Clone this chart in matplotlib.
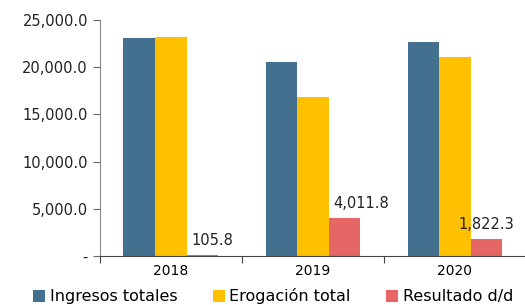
import matplotlib.pyplot as plt
import numpy as np
from matplotlib.ticker import FuncFormatter

years = ['2018', '2019', '2020']
ingresos = [23100, 20550, 22700]
erogacion = [23200, 16850, 21100]
resultado = [105.8, 4011.8, 1822.3]
labels = ['Ingresos totales', 'Erogación total', 'Resultado d/d']
colors = ['#44708f', '#ffc000', '#e66565']

plt.rcParams['font.family'] = ['DejaVu Sans']

fig = plt.figure(figsize=(5.25, 3.05), dpi=100)
ax = fig.add_axes([0.19, 0.161, 0.812, 0.773])

x = np.arange(len(years)) + 0.5
w = 0.222
series = [ingresos, erogacion, resultado]
for i, (vals, lab, c) in enumerate(zip(series, labels, colors)):
    ax.bar(x + (i - 1) * w, vals, w, color=c, label=lab)

# value labels above the result bars
dx = [0.07, 0.12, 0.0]
for xi, v, o in zip(x, resultado, dx):
    ax.annotate(f'{v:,.1f}', (xi + w + o, v), xytext=(0, 5), textcoords='offset points',
                ha='center', va='bottom', fontsize=10.5, color='#222222')

ax.set_xlim(0, 3)
ax.set_ylim(0, 25000)
ax.set_yticks(np.arange(0, 25001, 5000))
ax.yaxis.set_major_formatter(FuncFormatter(lambda v, p: '-' if v == 0 else f'{v:,.1f}'))
ax.set_xticks([0, 1, 2, 3])
ax.set_xticklabels([])
ax.set_xticks(x, minor=True)
ax.set_xticklabels(years, minor=True)
ax.tick_params(axis='x', which='minor', length=0, pad=6)
ax.tick_params(axis='x', which='major', length=5, color='#444444')
ax.tick_params(axis='y', length=5, color='#666666')
ax.tick_params(labelsize=10.5, labelcolor='#222222')

for s in ['top', 'right']:
    ax.spines[s].set_visible(False)
ax.spines['left'].set_color('#888888')
ax.spines['bottom'].set_color('#444444')

fig.legend(loc='lower center', bbox_to_anchor=(0.52, -0.035), ncol=3, frameon=False,
           fontsize=11.5, handlelength=0.75, handleheight=0.75, handletextpad=0.3,
           columnspacing=2.2, borderpad=0.2)

fig.savefig('out.png', dpi=100)
